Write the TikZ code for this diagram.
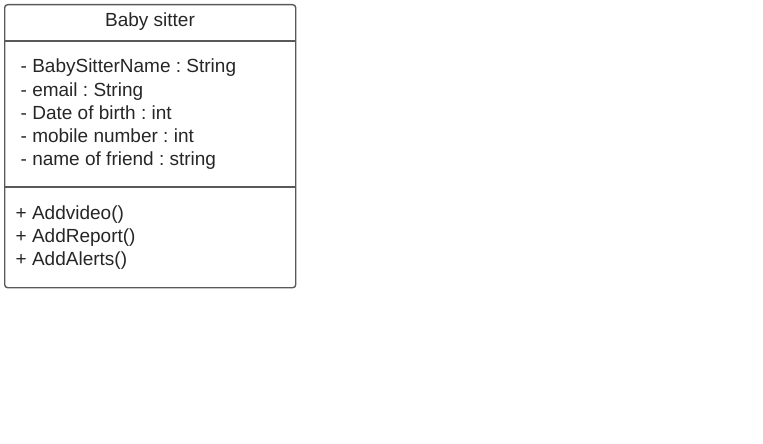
\documentclass[tikz,border=0pt]{standalone}
\usepackage{fontspec}
\setmainfont{Liberation Sans}
\usetikzlibrary{positioning}
\frenchspacing

\begin{document}
\begin{tikzpicture}[
            x = 1pt, y = -1pt, % pixel grid, y pointing down
            line width = 1.4pt,
            every node/.style = {inner sep = 0pt, text = black!85}
        ]

        \tikzstyle{umlbox}=[
            draw = black!65,
            rounded corners = 3pt,
            minimum width = 291pt,
            minimum height = 283pt
        ]
        \tikzstyle{umltext}=[
            font = \fontsize{19}{23}\selectfont
        ]

        \useasboundingbox (0,0) rectangle (763,444);

        \node[umlbox, anchor=north west] (cls) at (4,4) {};

        \node[umltext, anchor=base] (title) at (150,27) {Baby sitter};

        % compartment dividers
        \coordinate (d1w) at (4,41);
        \coordinate (d1e) at (295,41);
        \coordinate (d2w) at (4,187);
        \coordinate (d2e) at (295,187);
        \draw[black!65] (d1w) -- (d1e);
        \draw[black!65] (d2w) -- (d2e);

        % attributes
        \foreach \txt [count=\i] in {{- BabySitterName : String}, {- email : String},
            {- Date of birth : int}, {- mobile number : int}, {- name of friend : string}}
            \node[umltext, anchor=base west] (attr\i) at (20,50+23*\i) {\txt};

        % operations
        \foreach \txt [count=\i] in {{+ Addvideo()}, {+ AddReport()}, {+ AddAlerts()}}
            \node[umltext, anchor=base west] (op\i) at (15,196+23*\i) {\txt};
    \end{tikzpicture}
\end{document}
